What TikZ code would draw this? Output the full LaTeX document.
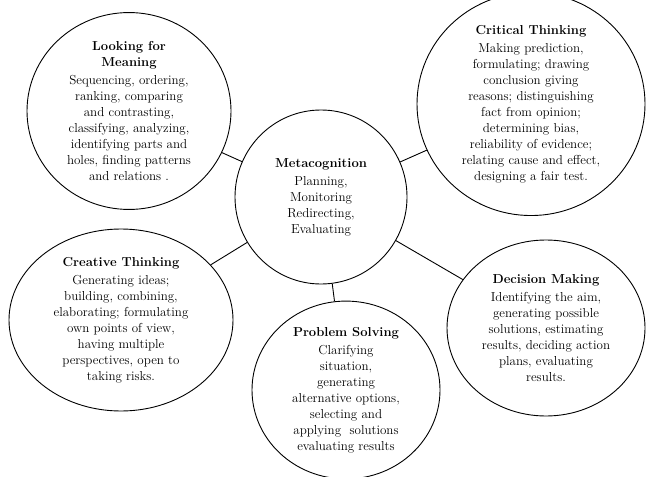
\documentclass[tikz,border=0pt]{standalone}
\usepackage{tikz}
\usetikzlibrary{shapes.geometric}

\begin{document}
\begin{tikzpicture}[x=1pt, y=-1pt,
    skill/.style={ellipse, draw, line width=0.9pt, inner sep=0pt, align=center,
      font=\fontsize{13}{16}\selectfont}]
  \useasboundingbox (0,0) rectangle (647,476);

  % Centre node
  \node[skill, minimum width=172pt, minimum height=174pt] (meta) at (321,197)
    {\textbf{Metacognition}\\[2pt]Planning,\\Monitoring\\Redirecting,\\Evaluating};

  % Skill areas round it
  \node[skill, minimum width=204pt, minimum height=182pt] (meaning) at (129,111)
    {\textbf{Looking for}\\\textbf{Meaning}\\[2pt]Sequencing, ordering,\\ranking, comparing\\and contrasting,\\classifying, analyzing,\\identifying parts and\\holes, finding patterns\\and relations .};
  \node[skill, minimum width=228pt, minimum height=198pt] (critical) at (531,104)
    {\textbf{Critical Thinking}\\[2pt]Making prediction,\\formulating; drawing\\conclusion giving\\reasons; distinguishing\\fact from opinion;\\determining bias,\\reliability of evidence;\\relating cause and effect,\\designing a fair test.};
  \node[skill, minimum width=224pt, minimum height=182pt] (creative) at (121,320)
    {\textbf{Creative Thinking}\\[2pt]Generating ideas;\\building, combining,\\elaborating; formulating\\own points of view,\\having multiple\\perspectives, open to\\taking risks.};
  \node[skill, minimum width=188pt, minimum height=174pt] (problem) at (346,390)
    {\textbf{Problem Solving}\\[2pt]Clarifying\\situation,\\generating\\alternative options,\\selecting and\\applying\ \ solutions\\evaluating results};
  \node[skill, minimum width=198pt, minimum height=176pt] (decision) at (546,328)
    {\textbf{Decision Making}\\[2pt]Identifying the aim,\\generating possible\\solutions, estimating\\results, deciding action\\plans, evaluating\\results.};

  % Links to the centre
  \foreach \area in {meaning, critical, creative, problem, decision}
    \draw[line width=0.9pt] (\area) -- (meta);
\end{tikzpicture}
\end{document}
